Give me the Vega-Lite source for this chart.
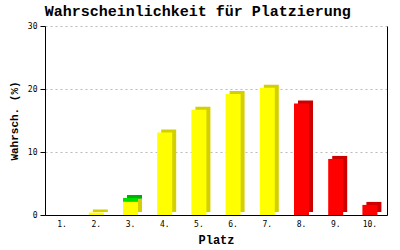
{
  "$schema": "https://vega.github.io/schema/vega-lite/v6.json",
  "width": 342,
  "height": 189,
  "padding": {"left": 8, "top": 4, "right": 15, "bottom": 5},
  "background": "white",
  "title": {
    "text": "Wahrscheinlichkeit für Platzierung",
    "font": "Liberation Mono",
    "fontSize": 15,
    "fontWeight": "bold",
    "color": "black",
    "anchor": "middle",
    "frame": "bounds",
    "offset": 3
  },
  "data": {
    "values": [
      {"platz": 1, "wert": 0.0, "gruppe": "mitte"},
      {"platz": 2, "wert": 0.4, "gruppe": "mitte"},
      {"platz": 3, "wert": 2.1, "gruppe": "mitte"},
      {"platz": 3, "wert": 0.6, "gruppe": "oben"},
      {"platz": 4, "wert": 13.1, "gruppe": "mitte"},
      {"platz": 5, "wert": 16.7, "gruppe": "mitte"},
      {"platz": 6, "wert": 19.2, "gruppe": "mitte"},
      {"platz": 7, "wert": 20.2, "gruppe": "mitte"},
      {"platz": 8, "wert": 17.7, "gruppe": "unten"},
      {"platz": 9, "wert": 8.9, "gruppe": "unten"},
      {"platz": 10, "wert": 1.6, "gruppe": "unten"}
    ]
  },
  "encoding": {
    "x": {
      "field": "platz",
      "type": "ordinal",
      "scale": {"paddingInner": 0, "paddingOuter": 0},
      "axis": {
        "title": "Platz",
        "labelExpr": "datum.label + '.'",
        "labelAngle": 0,
        "ticks": false,
        "labelPadding": 5,
        "domainColor": "black",
        "labelFont": "DejaVu Sans Mono",
        "labelFontSize": 8,
        "labelColor": "black",
        "titleFont": "Liberation Mono",
        "titleFontSize": 12,
        "titleFontWeight": "bold",
        "titleColor": "black",
        "titlePadding": 6
      }
    },
    "order": {"field": "gruppe", "type": "ordinal", "sort": "ascending"}
  },
  "layer": [
    {
      "mark": {"type": "bar", "width": 15, "xOffset": 4, "yOffset": -3, "y2Offset": -3},
      "encoding": {
        "y": {
          "field": "wert",
          "type": "quantitative",
          "stack": "zero",
          "scale": {"domain": [0, 30]},
          "axis": {
            "title": "Wahrsch. (%)",
            "values": [0, 10, 20, 30],
            "tickSize": 5,
            "tickColor": "black",
            "domainColor": "black",
            "grid": true,
            "gridColor": "#BBBBBB",
            "gridDash": [2, 3],
            "labelFont": "DejaVu Sans Mono",
            "labelFontSize": 8,
            "labelColor": "black",
            "labelPadding": 3,
            "titleFont": "Liberation Mono",
            "titleFontSize": 11,
            "titleFontWeight": "bold",
            "titleColor": "black",
            "titlePadding": 8
          }
        },
        "color": {
          "field": "gruppe",
          "type": "nominal",
          "scale": {"domain": ["mitte", "oben", "unten"], "range": ["#D4D000", "#00B000", "#CC0000"]},
          "legend": null
        }
      }
    },
    {
      "mark": {"type": "bar", "width": 15},
      "encoding": {
        "y": {"field": "wert", "type": "quantitative", "stack": "zero", "axis": null},
        "color": {
          "field": "gruppe",
          "type": "nominal",
          "scale": {"domain": ["mitte", "oben", "unten"], "range": ["#FFFF00", "#00E000", "#FF0000"]},
          "legend": null
        }
      }
    },
    {
      "mark": {"type": "rule", "opacity": 0},
      "encoding": {
        "y": {
          "field": "wert",
          "type": "quantitative",
          "axis": {
            "orient": "right",
            "labels": false,
            "ticks": false,
            "grid": false,
            "title": null,
            "domainColor": "black"
          }
        }
      }
    }
  ],
  "resolve": {"scale": {"color": "independent"}, "axis": {"y": "independent"}},
  "config": {"view": {"stroke": null}}
}
